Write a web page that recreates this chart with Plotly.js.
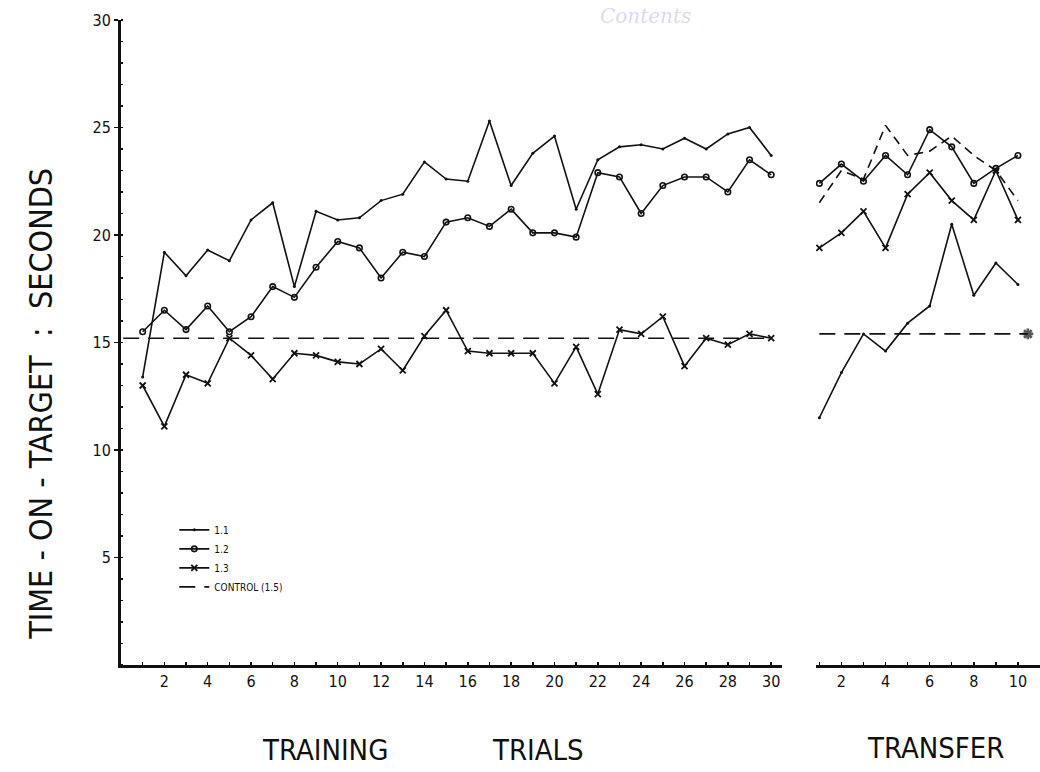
<!DOCTYPE html>
<html>
<head>
<meta charset="utf-8">
<script src="https://cdn.plot.ly/plotly-3.0.1.min.js"></script>
<style>
  html, body { margin: 0; padding: 0; background: #fff; }
  #chart { width: 1040px; height: 772px; }
</style>
</head>
<body>
<div id="chart"></div>
<script>
// Training trials (1-30) and transfer trials (1-10)
const trainTrials = [1,2,3,4,5,6,7,8,9,10,11,12,13,14,15,16,17,18,19,20,21,22,23,24,25,26,27,28,29,30];
const transferTrials = [1,2,3,4,5,6,7,8,9,10];

// Mean time-on-target (seconds) per training trial
const train11 = [13.4,19.2,18.1,19.3,18.8,20.7,21.5,17.6,21.1,20.7,20.8,21.6,21.9,23.4,22.6,22.5,25.3,22.3,23.8,24.6,21.2,23.5,24.1,24.2,24.0,24.5,24.0,24.7,25.0,23.7];
const train12 = [15.5,16.5,15.6,16.7,15.5,16.2,17.6,17.1,18.5,19.7,19.4,18.0,19.2,19.0,20.6,20.8,20.4,21.2,20.1,20.1,19.9,22.9,22.7,21.0,22.3,22.7,22.7,22.0,23.5,22.8];
const train13 = [13.0,11.1,13.5,13.1,15.2,14.4,13.3,14.5,14.4,14.1,14.0,14.7,13.7,15.3,16.5,14.6,14.5,14.5,14.5,13.1,14.8,12.6,15.6,15.4,16.2,13.9,15.2,14.9,15.4,15.2];

// Control level during training (flat line)
const controlTrainX = [0.1, 30];
const controlTrainY = [15.2, 15.2];

// Transfer trials
const transfer11 = [11.5,13.6,15.4,14.6,15.9,16.7,20.5,17.2,18.7,17.7];
const transfer12 = [22.4,23.3,22.5,23.7,22.8,24.9,24.1,22.4,23.1,23.7];
const transfer13 = [19.4,20.1,21.1,19.4,21.9,22.9,21.6,20.7,23.0,20.7];
const transferControl = [21.5,23.0,22.6,25.1,23.7,23.9,24.6,23.7,23.0,21.6];
const controlTransferX = [1, 10.45];
const controlTransferY = [15.4, 15.4];

// Tick labels
const yTicks = [5, 10, 15, 20, 25, 30];
const trainTicks = [2,4,6,8,10,12,14,16,18,20,22,24,26,28,30];
const transferTicks = [2,4,6,8,10];

const seriesNames = ['1.1', '1.2', '1.3', 'CONTROL (1.5)'];

const ink = '#111';
const dashStyle = '16px,9px';
const lw = 1.6;

const traces = [
  {x: trainTrials, y: train11, xaxis: 'x', yaxis: 'y', mode: 'lines+markers', name: seriesNames[0], legendgroup: 'g1',
   line: {color: ink, width: lw}, marker: {symbol: 'circle', size: 3, color: ink}},
  {x: trainTrials, y: train12, xaxis: 'x', yaxis: 'y', mode: 'lines+markers', name: seriesNames[1], legendgroup: 'g2',
   line: {color: ink, width: lw}, marker: {symbol: 'circle-open', size: 5.5, color: ink, line: {width: 1.6, color: ink}}},
  {x: trainTrials, y: train13, xaxis: 'x', yaxis: 'y', mode: 'lines+markers', name: seriesNames[2], legendgroup: 'g3',
   line: {color: ink, width: lw}, marker: {symbol: 'x-thin-open', size: 6, color: ink, line: {width: 1.8, color: ink}}},
  {x: controlTrainX, y: controlTrainY, xaxis: 'x', yaxis: 'y', mode: 'lines', name: seriesNames[3], legendgroup: 'g4',
   line: {color: ink, width: lw, dash: dashStyle}},

  {x: transferTrials, y: transfer11, xaxis: 'x2', yaxis: 'y', mode: 'lines+markers', showlegend: false, legendgroup: 'g1',
   line: {color: ink, width: lw}, marker: {symbol: 'circle', size: 3, color: ink}},
  {x: transferTrials, y: transfer12, xaxis: 'x2', yaxis: 'y', mode: 'lines+markers', showlegend: false, legendgroup: 'g2',
   line: {color: ink, width: lw}, marker: {symbol: 'circle-open', size: 5.5, color: ink, line: {width: 1.6, color: ink}}},
  {x: transferTrials, y: transfer13, xaxis: 'x2', yaxis: 'y', mode: 'lines+markers', showlegend: false, legendgroup: 'g3',
   line: {color: ink, width: lw}, marker: {symbol: 'x-thin-open', size: 6, color: ink, line: {width: 1.8, color: ink}}},
  {x: transferTrials, y: transferControl, xaxis: 'x2', yaxis: 'y', mode: 'lines', showlegend: false, legendgroup: 'g4',
   line: {color: ink, width: lw, dash: '9px,6px'}},
  {x: controlTransferX, y: controlTransferY, xaxis: 'x2', yaxis: 'y', mode: 'lines+markers', showlegend: false, legendgroup: 'g4',
   line: {color: ink, width: lw, dash: dashStyle},
   marker: {symbol: 'asterisk-open', size: [0, 9], color: ink, line: {width: 2.6, color: '#000'}}}
];

const tickFont = {family: 'DejaVu Sans Condensed, DejaVu Sans, sans-serif', size: 16, color: ink};
const labelFont = {family: 'Liberation Sans Narrow, DejaVu Sans Condensed, sans-serif', size: 29, color: ink};

const layout = {
  width: 1040, height: 772,
  margin: {l: 121, r: 0, t: 20, b: 107},
  paper_bgcolor: '#fff', plot_bgcolor: '#fff',
  showlegend: true,
  legend: {x: 0.058, xanchor: 'left', y: 0.232, yanchor: 'top', bgcolor: 'rgba(0,0,0,0)',
           font: {family: 'DejaVu Sans Condensed, DejaVu Sans, sans-serif', size: 10, color: ink},
           tracegroupgap: 0, itemwidth: 30},
  xaxis: {
    domain: [0, 0.7193], range: [0, 30.5], anchor: 'y',
    showgrid: false, zeroline: false, showline: true, linecolor: ink, linewidth: 2.5,
    tickvals: trainTicks, ticktext: trainTicks.map(String), ticks: 'inside', ticklen: 3, tickwidth: 1.5, tickcolor: ink,
    minor: {dtick: 1, tick0: 0, ticks: 'inside', ticklen: 3, tickwidth: 1.5, tickcolor: ink},
    tickfont: tickFont
  },
  xaxis2: {
    domain: [0.7563, 1], range: [0.85, 11.0], anchor: 'y',
    showgrid: false, zeroline: false, showline: true, linecolor: ink, linewidth: 2.5,
    tickvals: transferTicks, ticktext: transferTicks.map(String), ticks: 'inside', ticklen: 3, tickwidth: 1.5, tickcolor: ink,
    minor: {dtick: 1, tick0: 0, ticks: 'inside', ticklen: 3, tickwidth: 1.5, tickcolor: ink},
    tickfont: tickFont
  },
  yaxis: {
    range: [0, 30], anchor: 'x',
    showgrid: false, zeroline: false, showline: true, linecolor: ink, linewidth: 3,
    tickvals: yTicks, ticktext: yTicks.map(String), ticks: 'outside', ticklen: 4, tickwidth: 1.5, tickcolor: ink,
    minor: {dtick: 1, tick0: 0, ticks: 'inside', ticklen: 2, tickwidth: 1.5, tickcolor: ink},
    tickfont: tickFont
  },
  annotations: [
    {text: 'TIME - ON - TARGET  :  SECONDS', xref: 'paper', yref: 'paper', x: -0.087, y: 0.405,
     textangle: -90, showarrow: false, font: Object.assign({}, labelFont, {size: 32}), xanchor: 'center', yanchor: 'middle'},
    {text: 'TRAINING', xref: 'paper', yref: 'paper', x: (325 - 121) / 919, y: -0.132,
     showarrow: false, font: labelFont, xanchor: 'center', yanchor: 'middle'},
    {text: 'TRIALS', xref: 'paper', yref: 'paper', x: (538 - 121) / 919, y: -0.132,
     showarrow: false, font: labelFont, xanchor: 'center', yanchor: 'middle'},
    {text: 'TRANSFER', xref: 'paper', yref: 'paper', x: (935 - 121) / 919, y: -0.129,
     showarrow: false, font: labelFont, xanchor: 'center', yanchor: 'middle'},
    {text: 'Contents', xref: 'paper', yref: 'paper', x: (645 - 121) / 919, y: (665 - 2) / 645,
     showarrow: false, xanchor: 'center', yanchor: 'top',
     font: {family: 'DejaVu Serif, serif', size: 20, color: 'rgba(140,140,230,0.35)', style: 'italic'}}
  ]
};

Plotly.newPlot('chart', traces, layout, {staticPlot: true, displayModeBar: false});
</script>
</body>
</html>
